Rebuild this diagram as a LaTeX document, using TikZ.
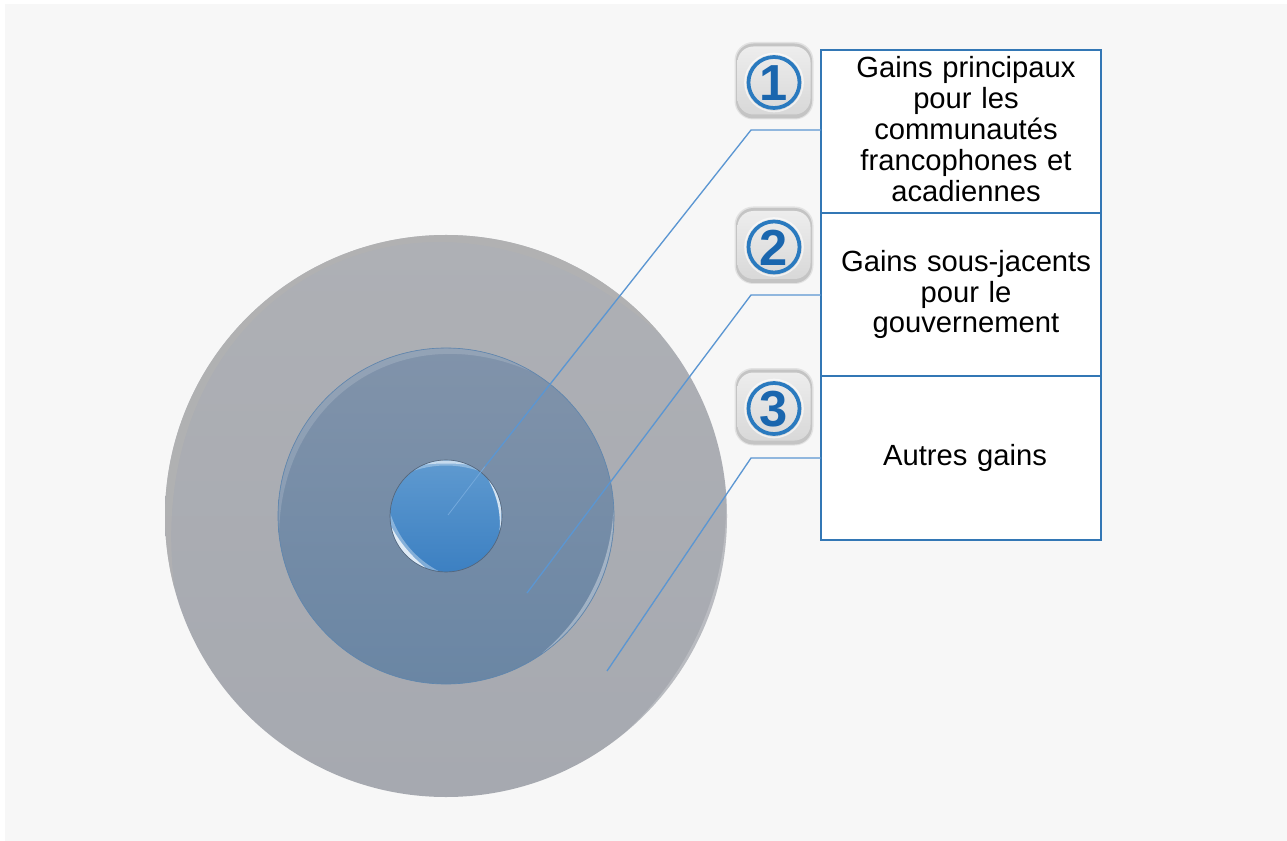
\documentclass[tikz,border=0pt]{standalone}
\usepackage{fontspec}
\setmainfont{Liberation Sans}
\usetikzlibrary{calc}
\definecolor{bgc}{HTML}{F7F7F7}
\definecolor{boxc}{HTML}{3377B5}
\definecolor{linec}{HTML}{5B96D2}
\definecolor{linefaint}{HTML}{74A9DC}
\definecolor{ringc}{HTML}{2A7ABF}
\definecolor{digitc}{HTML}{1A66AE}
\definecolor{icontop}{HTML}{EDEDED}
\definecolor{iconmid}{HTML}{F0F0F0}
\definecolor{iconbot}{HTML}{D8D8D8}
\definecolor{outerrim}{HTML}{B2B2B2}
\definecolor{outertop}{HTML}{AEB0B5}
\definecolor{outermid}{HTML}{AEB0B6}
\definecolor{outerbot}{HTML}{A6A9B0}
\definecolor{midrim}{HTML}{5F86AE}
\definecolor{midtop}{HTML}{8193AA}
\definecolor{midmid}{HTML}{7B90AB}
\definecolor{midbot}{HTML}{6A86A4}
\definecolor{intop}{HTML}{5F9AD0}
\definecolor{inmid}{HTML}{4F90CE}
\definecolor{inbot}{HTML}{3C80C2}
% crescent along the rim: centre, radius, a1, a2, thickness, colour+opacity
\newcommand{\glint}[6]{%
  \pgfmathsetmacro{\gs}{#4-(#3)}%
  \pgfmathsetmacro{\gr}{(8*(#2-#5)-2*#2*cos(\gs/2))/(6*cos(\gs/6))}%
  \fill[#6] ($(#1)+(#3:#2)$) arc[start angle=#3,end angle=#4,radius=#2]
    .. controls ($(#1)+({#3+2*\gs/3}:\gr)$) and ($(#1)+({#3+\gs/3}:\gr)$) .. ($(#1)+(#3:#2)$);}
\newcommand{\icon}[3]{% name, centre, digit
  \begin{scope}[shift={(#2)}]
    \fill[black!40,opacity=.22,rounded corners=14pt] (-39.5,-39) rectangle (39.5,38.5);
    \fill[black!50,opacity=.30,rounded corners=13pt] (-38,-38) rectangle (38,37);
    \shade[top color=icontop,middle color=iconmid,bottom color=iconbot,rounded corners=12pt] (-36.5,-34) rectangle (36.5,34);
    \draw[white,opacity=.6,line width=1.2pt] (0,-2) circle[radius=29];
    \draw[ringc,line width=2.8pt] (0,-2) circle[radius=25.5];
    \node[digitnode] (#1) at (0,-3) {\bfseries #3};
  \end{scope}}
\tikzset{
  disc/.style={circle,inner sep=0pt,outer sep=0pt},
  labelbox/.style={draw=boxc,line width=1pt,fill=white,inner sep=0pt,outer sep=0pt,
    minimum width=210pt},
  boxtext/.style={inner sep=0pt,align=center,text width=210pt,
    font=\fontsize{21.9pt}{23.1pt}\selectfont},
  digitnode/.style={inner sep=0pt,text=digitc,font=\fontsize{38pt}{38pt}\selectfont},
  connector/.style={draw=linec,line width=1pt},
}
\begin{document}
\begin{tikzpicture}[x=.75pt,y=.75pt]
\useasboundingbox (0,0) rectangle (1287,840);
\fill[white] (0,0) rectangle (1287,840);
\fill[bgc] (5,-2) rectangle (1289,836);
% discs
\coordinate (c) at (446,324);
\node[disc,minimum size=421.5pt,top color=outertop,middle color=outermid,bottom color=outerbot] (outer) at (c) {};
\glint{c}{281}{40}{195}{5}{outerrim,opacity=.8}
\glint{c}{281}{-50}{5}{3}{white,opacity=.2}
\node[disc,minimum size=252pt,top color=midtop,middle color=midmid,bottom color=midbot,draw=midrim,line width=.5pt] (middle) at (c) {};
\glint{c}{167.5}{60}{185}{6}{white,opacity=.15}
\glint{c}{167.5}{-55}{2}{3.5}{white,opacity=.35}
% boxes
\node[labelbox,minimum height=122.25pt] (box1) at (961,708.5) {};
\node[labelbox,minimum height=122.25pt] (box2) at (961,545.5) {};
\node[labelbox,minimum height=123pt] (box3) at (961,382) {};
\node[boxtext] (t1) at (966,711) {Gains principaux\\pour les\\communautés\\francophones et\\acadiennes};
\node[boxtext] (t2) at (966,545.5) {Gains sous-jacents\\pour le\\gouvernement};
\node[boxtext] (t3) at (965,382.5) {Autres gains};
% connectors
\coordinate (e1) at (751,710);
\coordinate (e2) at (751,545);
\coordinate (e3) at (751,382);
\coordinate (p1) at (448,325);
\coordinate (p2) at (527,247);
\coordinate (p3) at (607,169);
\coordinate (q1) at (485,373.5);
\draw[connector] ([yshift=1.1pt]box1.west) -- (e1) -- (q1);
\draw[connector] ([yshift=-.4pt]box2.west) -- (e2) -- (p2);
\draw[connector] (box3.west) -- (e3) -- (p3);
% inner disc
\node[disc,minimum size=84pt,top color=intop,middle color=inmid,bottom color=inbot,draw=black!30!midmid,line width=.5pt] (inner) at (c) {};
\draw[linefaint,line width=.6pt] (q1) -- (p1);
\glint{c}{55.5}{55}{125}{5}{white,opacity=.3}
\glint{c}{55.5}{68}{112}{3}{white,opacity=.5}
\glint{c}{55.5}{178}{262}{7}{white,opacity=.35}
\glint{c}{55.5}{192}{248}{4}{white,opacity=.75}
\glint{c}{55.5}{-15}{40}{2.5}{white,opacity=.75}
% icons
\icon{n1}{774,759.5}{1}
\icon{n2}{774,595}{2}
\icon{n3}{774,433.5}{3}
\end{tikzpicture}
\end{document}
